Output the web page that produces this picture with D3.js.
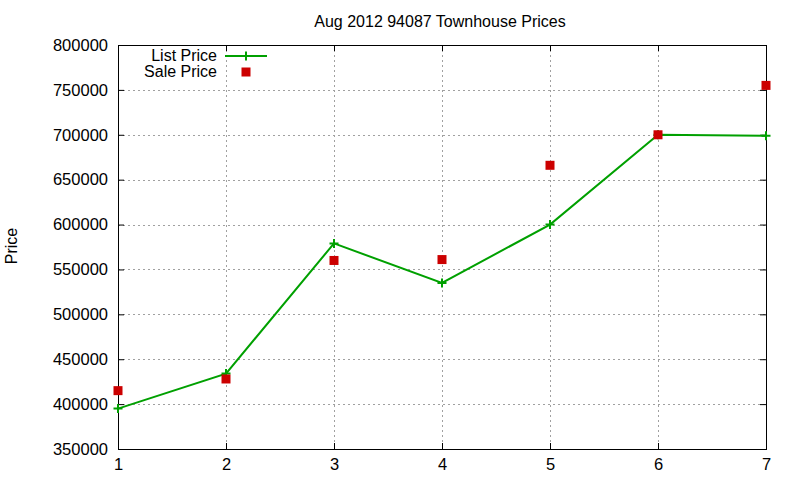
<!DOCTYPE html>
<html lang="en">
<head>
<meta charset="UTF-8">
<title>Aug 2012 94087 Townhouse Prices</title>
<script src="https://d3js.org/d3.v7.min.js"></script>
<style>
  body { margin: 0; background: #fff; }
  svg text { font-family: "Liberation Sans", Arial, sans-serif; font-size: 16px; fill: #000; }
</style>
</head>
<body>
<svg id="chart" width="800" height="480"></svg>
<script>
// data
const months = [1, 2, 3, 4, 5, 6, 7];
const listPrice = [395000, 434000, 579000, 535000, 600000, 700000, 699000];
const salePrice = [415000, 428000, 560000, 561000, 666000, 700000, 755000];
const yTicks = [350000, 400000, 450000, 500000, 550000, 600000, 650000, 700000, 750000, 800000];

const green = "#00a000", red = "#cc0000";
const margin = { left: 118, right: 34, top: 45, bottom: 31 };
const width = 800, height = 480;

const svg = d3.select("#chart");

const x = d3.scaleLinear().domain([1, 7]).range([margin.left, width - margin.right]);
const y = d3.scaleLinear().domain([350000, 800000]).range([height - margin.bottom, margin.top]);

// grid
const grid = svg.append("g")
  .attr("stroke", "#a0a0a0").attr("stroke-width", 1).attr("stroke-dasharray", "2,3");
grid.selectAll("line.v").data(months.slice(1, -1)).join("line")
  .attr("x1", d => x(d) + 0.5).attr("x2", d => x(d) + 0.5)
  .attr("y1", y.range()[1]).attr("y2", y.range()[0]);
grid.selectAll("line.h").data(yTicks.slice(1, -1)).join("line")
  .attr("y1", d => Math.round(y(d)) + 0.5).attr("y2", d => Math.round(y(d)) + 0.5)
  .attr("x1", x.range()[0]).attr("x2", x.range()[1]);

// axes (gnuplot style: inward ticks, mirrored)
const tick = 6;
svg.append("g").attr("transform", `translate(0,${y.range()[0]})`)
  .call(d3.axisBottom(x).tickValues(months).tickFormat(d3.format("d")).tickSizeInner(-tick).tickSizeOuter(0).tickPadding(9))
  .call(g => g.select(".domain").remove());
svg.append("g").attr("transform", `translate(0,${y.range()[1]})`)
  .call(d3.axisTop(x).tickValues(months).tickFormat("").tickSizeInner(-tick).tickSizeOuter(0))
  .call(g => g.select(".domain").remove());
svg.append("g").attr("transform", `translate(${x.range()[0]},0)`)
  .call(d3.axisLeft(y).tickValues(yTicks).tickFormat(d3.format("d")).tickSizeInner(-tick).tickSizeOuter(0).tickPadding(10))
  .call(g => g.select(".domain").remove());
svg.append("g").attr("transform", `translate(${x.range()[1]},0)`)
  .call(d3.axisRight(y).tickValues(yTicks).tickFormat("").tickSizeInner(-tick).tickSizeOuter(0))
  .call(g => g.select(".domain").remove());
svg.selectAll(".tick text").attr("font-size", 16.5).attr("font-family", "Liberation Sans, Arial, sans-serif")
  .style("font-size", "16.5px");
svg.selectAll(".tick line").attr("stroke", "#000");

svg.append("rect")
  .attr("x", x.range()[0] + 0.5).attr("y", y.range()[1] + 0.5)
  .attr("width", x.range()[1] - x.range()[0]).attr("height", y.range()[0] - y.range()[1])
  .attr("fill", "none").attr("stroke", "#000").attr("stroke-width", 1);

// list price line
const line = d3.line().x((d, i) => x(months[i])).y(d => y(d));
svg.append("path").datum(listPrice)
  .attr("d", line).attr("fill", "none").attr("stroke", green).attr("stroke-width", 2);

const plus = (g, cx, cy, s) => g.append("path")
  .attr("d", `M${cx - s},${cy}H${cx + s}M${cx},${cy - s}V${cy + s}`)
  .attr("stroke", green).attr("stroke-width", 2);

const marks = svg.append("g");
listPrice.forEach((v, i) => plus(marks, x(months[i]), y(v), 4.5));

// sale price squares
svg.append("g").selectAll("rect").data(salePrice).join("rect")
  .attr("x", (d, i) => x(months[i]) - 4.5).attr("y", d => y(d) - 4.5)
  .attr("width", 9).attr("height", 9).attr("fill", red);

// legend
const lg = svg.append("g");
lg.append("text").attr("x", 217).attr("y", 61).attr("text-anchor", "end").text("List Price");
lg.append("line").attr("x1", 225).attr("x2", 267).attr("y1", 56).attr("y2", 56)
  .attr("stroke", green).attr("stroke-width", 2);
plus(lg, 246, 56, 4.5);
lg.append("text").attr("x", 217).attr("y", 77).attr("text-anchor", "end").text("Sale Price");
lg.append("rect").attr("x", 241.5).attr("y", 67.5).attr("width", 9).attr("height", 9).attr("fill", red);

// title and y label
svg.append("text").attr("x", 440).attr("y", 27).attr("text-anchor", "middle")
  .text("Aug 2012 94087 Townhouse Prices");
svg.append("text").attr("transform", "translate(17,246) rotate(-90)").attr("text-anchor", "middle")
  .text("Price");
</script>
</body>
</html>
